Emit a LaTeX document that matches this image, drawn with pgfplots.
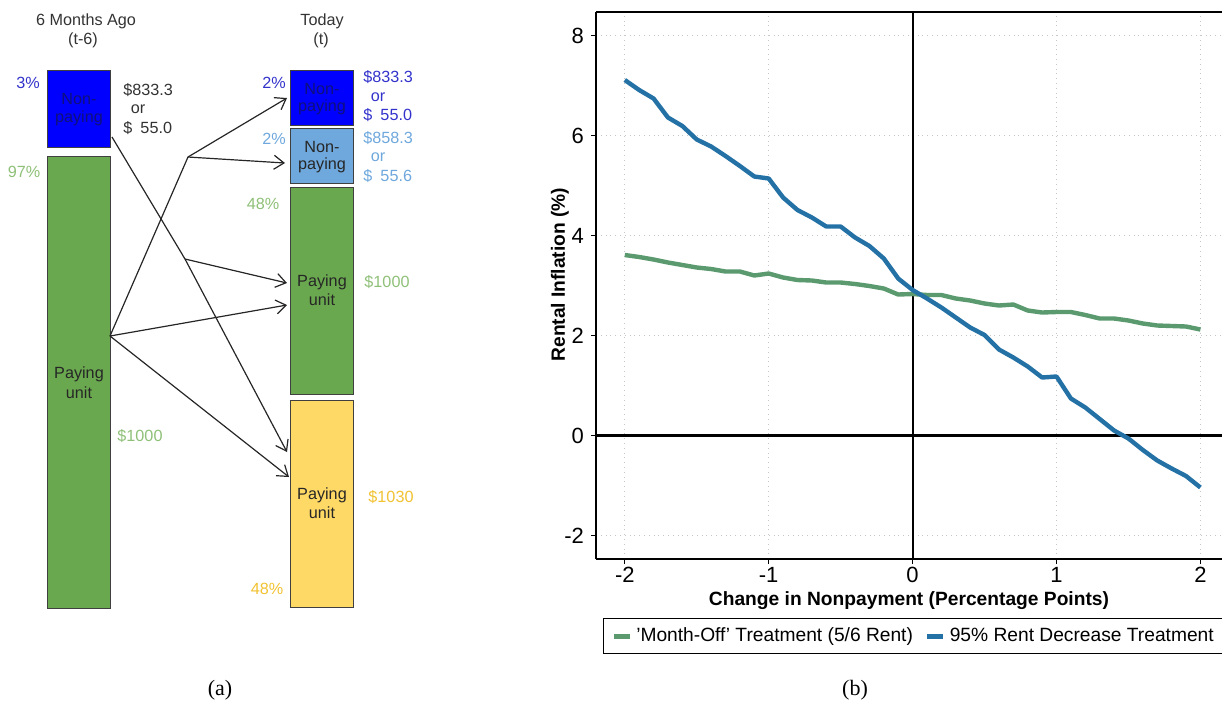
\documentclass[border=0pt]{standalone}
\usepackage{fontspec}
\setmainfont{Liberation Sans}
\newfontfamily\capfont{Liberation Serif}
\usepackage{pgfplots}
\pgfplotsset{compat=1.18}
\usetikzlibrary{arrows.meta}
\definecolor{boxblue}{HTML}{0000FF}
\definecolor{boxlight}{HTML}{6FA8DC}
\definecolor{boxgreen}{HTML}{6AA84F}
\definecolor{boxyellow}{HTML}{FFD966}
\definecolor{txtblue}{HTML}{3333CC}
\definecolor{txtnavy}{HTML}{10107A}
\definecolor{txtgreen}{HTML}{8FC078}
\definecolor{txtyellow}{HTML}{F1C232}
\definecolor{linegreen}{HTML}{5A9A6E}
\definecolor{lineblue}{HTML}{2471A6}

\pgfplotstableread{
x     y
-2.0  7.11
-1.9  6.91
-1.8  6.74
-1.7  6.36
-1.6  6.19
-1.5  5.92
-1.4  5.78
-1.3  5.59
-1.2  5.39
-1.1  5.18
-1.0  5.14
-0.9  4.76
-0.8  4.51
-0.7  4.36
-0.6  4.18
-0.5  4.18
-0.4  3.96
-0.3  3.79
-0.2  3.54
-0.1  3.14
 0.0  2.91
 0.1  2.74
 0.2  2.56
 0.3  2.36
 0.4  2.16
 0.5  2.01
 0.6  1.72
 0.7  1.56
 0.8  1.38
 0.9  1.16
 1.0  1.18
 1.1  0.74
 1.2  0.56
 1.3  0.33
 1.4  0.10
 1.5 -0.06
 1.6 -0.29
 1.7 -0.50
 1.8 -0.66
 1.9 -0.81
 2.0 -1.04
}\rentcut

\pgfplotstableread{
x     y
-2.0  3.61
-1.9  3.57
-1.8  3.52
-1.7  3.46
-1.6  3.41
-1.5  3.36
-1.4  3.33
-1.3  3.28
-1.2  3.28
-1.1  3.20
-1.0  3.24
-0.9  3.16
-0.8  3.11
-0.7  3.10
-0.6  3.06
-0.5  3.06
-0.4  3.03
-0.3  2.99
-0.2  2.94
-0.1  2.82
 0.0  2.83
 0.1  2.81
 0.2  2.81
 0.3  2.74
 0.4  2.70
 0.5  2.64
 0.6  2.60
 0.7  2.62
 0.8  2.50
 0.9  2.46
 1.0  2.47
 1.1  2.47
 1.2  2.41
 1.3  2.34
 1.4  2.34
 1.5  2.30
 1.6  2.24
 1.7  2.20
 1.8  2.19
 1.9  2.18
 2.0  2.12
}\monthoff

\tikzset{
  dg/.style={font=\fontsize{8.1}{9.7}\selectfont, inner sep=0pt},
  box/.style={draw=black!75, line width=0.5pt},
  flow/.style={draw=black!85, line width=0.6pt, -{Straight Barb[length=5pt,width=7pt]}}}

\begin{document}
\begin{tikzpicture}
% ---- panel (a): flow diagram, drawn in pixel coordinates ----
\begin{axis}[
  at={(0pt,0pt)}, anchor=north west,
  scale only axis, width=611pt, height=351.5pt,
  xmin=0, xmax=1222, ymin=0, ymax=703, y dir=reverse,
  hide axis, clip=false]
% boxes
\addplot[box, fill=boxblue]   coordinates {(47,70) (110,70) (110,147) (47,147) (47,70)};
\addplot[box, fill=boxgreen]  coordinates {(47,156) (110,156) (110,608) (47,608) (47,156)};
\addplot[box, fill=boxblue]   coordinates {(290,70) (353,70) (353,125) (290,125) (290,70)};
\addplot[box, fill=boxlight]  coordinates {(290,128) (353,128) (353,183) (290,183) (290,128)};
\addplot[box, fill=boxgreen]  coordinates {(290,187) (353,187) (353,394) (290,394) (290,187)};
\addplot[box, fill=boxyellow] coordinates {(290,400) (353,400) (353,607) (290,607) (290,400)};
% flows
\addplot[flow] coordinates {(112,137) (185,259) (287,452)};
\addplot[flow] coordinates {(185,259) (287,283)};
\addplot[flow] coordinates {(110,336) (188,157) (287,98)};
\addplot[flow] coordinates {(188,157) (285,163)};
\addplot[flow] coordinates {(110,336) (287,305)};
\addplot[flow] coordinates {(110,336) (289,477)};
% headers
\node[dg, text=black!80] at (axis cs:86,21) {6 Months Ago};
\node[dg, text=black!80] at (axis cs:83,40) {(t-6)};
\node[dg, text=black!80] at (axis cs:322,21) {Today};
\node[dg, text=black!80] at (axis cs:321,40) {(t)};
% box labels
\node[dg, text=txtnavy] at (axis cs:79,99) {Non-};
\node[dg, text=txtnavy] at (axis cs:79,118) {paying};
\node[dg, text=black!85] at (axis cs:79,374) {Paying};
\node[dg, text=black!85] at (axis cs:79,393) {unit};
\node[dg, text=txtnavy] at (axis cs:322,89) {Non-};
\node[dg, text=txtnavy] at (axis cs:322,107) {paying};
\node[dg, text=black!85] at (axis cs:322,147) {Non-};
\node[dg, text=black!85] at (axis cs:322,165) {paying};
\node[dg, text=black!85] at (axis cs:322,282) {Paying};
\node[dg, text=black!85] at (axis cs:322,300) {unit};
\node[dg, text=black!85] at (axis cs:322,495) {Paying};
\node[dg, text=black!85] at (axis cs:322,513) {unit};
% shares
\node[dg, text=txtblue] at (axis cs:28,83) {3\%};
\node[dg, text=txtgreen] at (axis cs:24,172) {97\%};
\node[dg, text=txtblue] at (axis cs:274,83) {2\%};
\node[dg, text=boxlight] at (axis cs:274,139) {2\%};
\node[dg, text=txtgreen] at (axis cs:263,204) {48\%};
\node[dg, text=txtyellow] at (axis cs:267,589) {48\%};
% rents
\node[dg, text=black!80, anchor=west] at (axis cs:123,90) {\$833.3};
\node[dg, text=black!80] at (axis cs:138,109) {or};
\node[dg, text=black!80, anchor=west] at (axis cs:123,128) {\$\hspace{0.5em}55.0};
\node[dg, text=txtblue, anchor=west] at (axis cs:363,77) {\$833.3};
\node[dg, text=txtblue] at (axis cs:378,97) {or};
\node[dg, text=txtblue, anchor=west] at (axis cs:363,115) {\$\hspace{0.5em}55.0};
\node[dg, text=boxlight, anchor=west] at (axis cs:363,138) {\$858.3};
\node[dg, text=boxlight] at (axis cs:378,157) {or};
\node[dg, text=boxlight, anchor=west] at (axis cs:363,176) {\$\hspace{0.5em}55.6};
\node[dg, text=txtgreen] at (axis cs:140,436) {\$1000};
\node[dg, text=txtgreen] at (axis cs:387,282) {\$1000};
\node[dg, text=txtyellow] at (axis cs:391,497) {\$1030};
% captions
\node[font=\capfont\fontsize{11}{13}\selectfont] at (axis cs:220,690) {(a)};
\node[font=\capfont\fontsize{11}{13}\selectfont] at (axis cs:855,690) {(b)};
\end{axis}

% ---- panel (b): rental inflation ----
\begin{axis}[
  at={(298pt,-6pt)}, anchor=north west,
  scale only axis, width=313pt, height=273.5pt,
  xmin=-2.2, xmax=2.15, ymin=-2.47, ymax=8.47,
  xtick={-2,-1,0,1,2}, ytick={-2,0,2,4,6,8},
  axis x line=box, axis y line*=left,
  xtick pos=bottom, ytick pos=left, tick align=outside,
  major tick length=2.5pt,
  axis line style={black, line width=0.7pt},
  tick style={black, line width=0.5pt},
  grid=major, major grid style={gray!45, dotted, line width=0.5pt},
  /pgf/number format/assume math mode=true,
  ticklabel style={font=\fontsize{11}{13}\selectfont},
  xticklabel style={yshift=2pt},
  xlabel={Change in Nonpayment (Percentage Points)},
  ylabel={Rental Inflation (\%)},
  label style={font=\bfseries\fontsize{9.6}{11}\selectfont},
  xlabel style={at={(axis description cs:0.5,-0.058)}, anchor=north, inner sep=0pt},
  ylabel style={at={(axis description cs:-0.0575,0.52)}, anchor=center},
  legend style={at={(axis description cs:0.011,-0.108)}, anchor=north west,
    legend columns=2, draw=black, line width=0.6pt,
    font=\fontsize{9.6}{11}\selectfont, inner xsep=4pt, inner ysep=2.5pt,
    /tikz/every even column/.append style={column sep=4pt}},
  legend cell align=left,
  legend image code/.code={\draw[#1, line width=2.4pt] (0pt,0pt) -- (8pt,0pt);},
  clip=false]
\draw[black, line width=1.1pt] (axis cs:-2.2,0) -- (axis cs:2.15,0);
\draw[black, line width=1.1pt] (axis cs:0,-2.47) -- (axis cs:0,8.47);
\addplot[linegreen, line width=2.2pt, line join=round] table[x=x, y=y] {\monthoff};
\addplot[lineblue, line width=2.2pt, line join=round] table[x=x, y=y] {\rentcut};
\legend{'Month-Off' Treatment (5/6 Rent), 95\% Rent Decrease Treatment}
\end{axis}
\pgfresetboundingbox
\useasboundingbox (0pt,0pt) rectangle (611pt,-351.5pt);
\end{tikzpicture}
\end{document}
